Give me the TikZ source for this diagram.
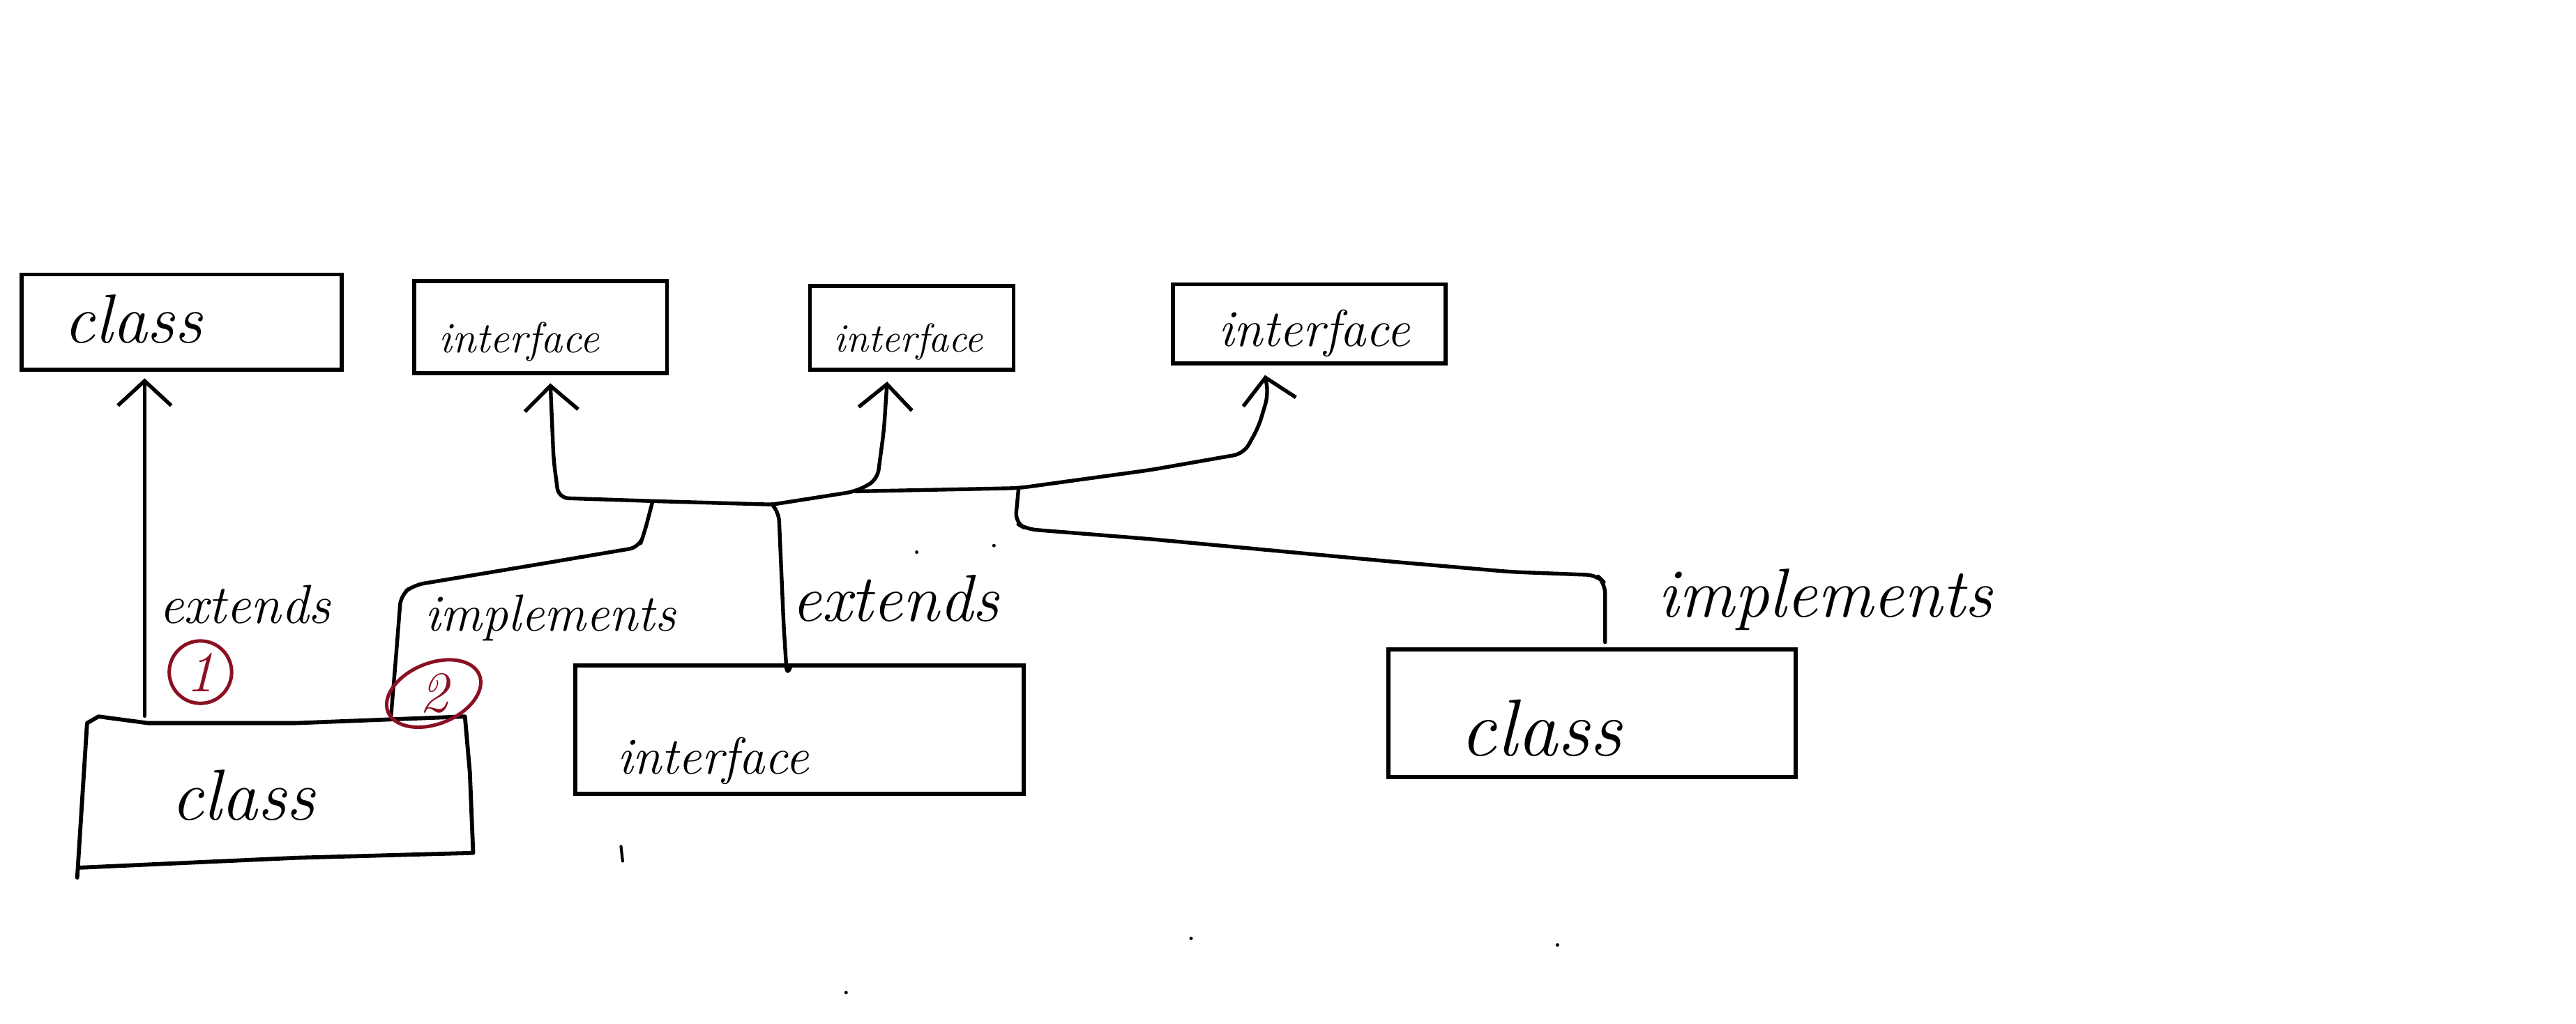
\documentclass[tikz,border=0pt]{standalone}
\usepackage{tikz}
\usetikzlibrary{
  calc,
  arrows.meta,
  positioning,
  shapes.geometric
}
\definecolor{markred}{RGB}{138,16,34}
\tikzset{
  umlbox/.style={rectangle, draw, line width=1.4pt, inner sep=0pt},
  hand/.style={inner sep=0pt, font=\itshape\fontsize{#1}{#1}\selectfont},
  hand/.default=20,
  conn/.style={line width=1.3pt, line cap=round, line join=round, rounded corners=0.12cm},
  gen/.style={conn, -{Straight Barb[length=3mm, width=6.5mm]}},
  tag/.style={draw=markred, text=markred, line width=1.2pt, inner sep=0pt,
              font=\itshape\fontsize{20}{20}\selectfont},
  tagnum/.style={text=markred, inner sep=0pt, font=\itshape\fontsize{20}{20}\selectfont}
}

\begin{document}
\begin{tikzpicture}[x=0.02cm, y=-0.02cm]
\useasboundingbox (0,0) rectangle (1568,623);

% boxes
\node[umlbox, minimum width=3.9cm,  minimum height=1.16cm] (cls1) at (110.5,196) {};
\node[umlbox, minimum width=3.08cm, minimum height=1.12cm] (ifc1) at (329,199) {};
\node[umlbox, minimum width=2.48cm, minimum height=1.02cm] (ifc2) at (555,199.5) {};
\node[umlbox, minimum width=3.32cm, minimum height=0.96cm] (ifc3) at (797,197) {};
\node[umlbox, minimum width=5.46cm, minimum height=1.56cm] (ifc4) at (486.5,444) {};
\node[umlbox, minimum width=4.96cm, minimum height=1.56cm] (cls3) at (969,434) {};
\node[inner sep=0pt, minimum width=4.7cm, minimum height=1.76cm] (clsA) at (168,482) {};

% hand drawn outline of the lower class
\draw[line width=1.4pt, line join=round, line cap=round]
  (47,534) -- (53,440) -- (60,436) -- (90,440) -- (180,440) -- (283,436)
  -- (286,470) -- (288,519) -- (180,522) -- (48,528);

% texts
\node[hand=24] (tcls1) at (81,194)  {class};
\node[hand=15] (tifc1) at (316,208) {interface};
\node[hand=14] (tifc2) at (553,208) {interface};
\node[hand=18] (tifc3) at (800,203) {interface};
\node[hand=18] (tifc4) at (434,463) {interface};
\node[hand=25] (tclsA) at (148,484) {class};
\node[hand=28] (tcls3) at (938,443) {class};

% junctions
\coordinate (jL) at (397,306);
\coordinate (jM) at (470,307);
\coordinate (jK) at (521,299);
\coordinate (jR) at (620,297);

% arrows
\draw[gen] ([shift={(-80,-2)}]clsA.north) -- ([shift={(-22.5,4)}]cls1.south);
\draw[conn] ([shift={(70,-2)}]clsA.north) -- (241,400) -- (244,362) -- (252,356)
  -- (330,343) -- (389,333) -- (392,325) -- (jL);
\draw[gen] (jM) -- (400,305) -- (340,303) -- (337,280) -- ([shift={(6,5)}]ifc1.south);
\draw[gen] (jM) -- (jK) -- (534,292) -- (538,262) -- ([shift={(-15,6)}]ifc2.south);
\draw[gen] (jK) -- (jR) -- (700,286) -- (757,276) -- (766,260) -- (772,240)
  -- ([shift={(-27,6)}]ifc3.south);
\draw[conn] (jM) -- (474,311) -- (477,380) -- ([shift={(-7.5,8)}]ifc4.north)
  -- ([shift={(-5,1)}]ifc4.north);
\draw[conn] (jR) -- (618,318) -- (625,322) -- (700,328) -- (850,342) -- (920,348)
  -- (972,350) -- (977,355) -- ([shift={(8,-3)}]cls3.north);

% labels
\node[hand=19] (ext1) at (149,368)  {extends};
\node[hand=18] (imp1) at (335,376)  {implements};
\node[hand=23] (ext2) at (545,364)  {extends};
\node[hand=24] (imp2) at (1111,365) {implements};

% marks
\node[tag, circle, minimum size=0.76cm] (m1) at (122,409) {1};
\node[tag, ellipse, minimum width=1.2cm, minimum height=0.74cm, rotate=22] (m2) at (264,422) {};
\node[tagnum] (t2) at (m2.center) {2};

% stray marks
\draw[line width=1pt, line cap=round] (378,515) -- (379,524);
\foreach \p in {(558,336), (605,332), (725,571), (948,575), (515,604)}
  \fill \p circle (0.6pt);

\end{tikzpicture}
\end{document}
